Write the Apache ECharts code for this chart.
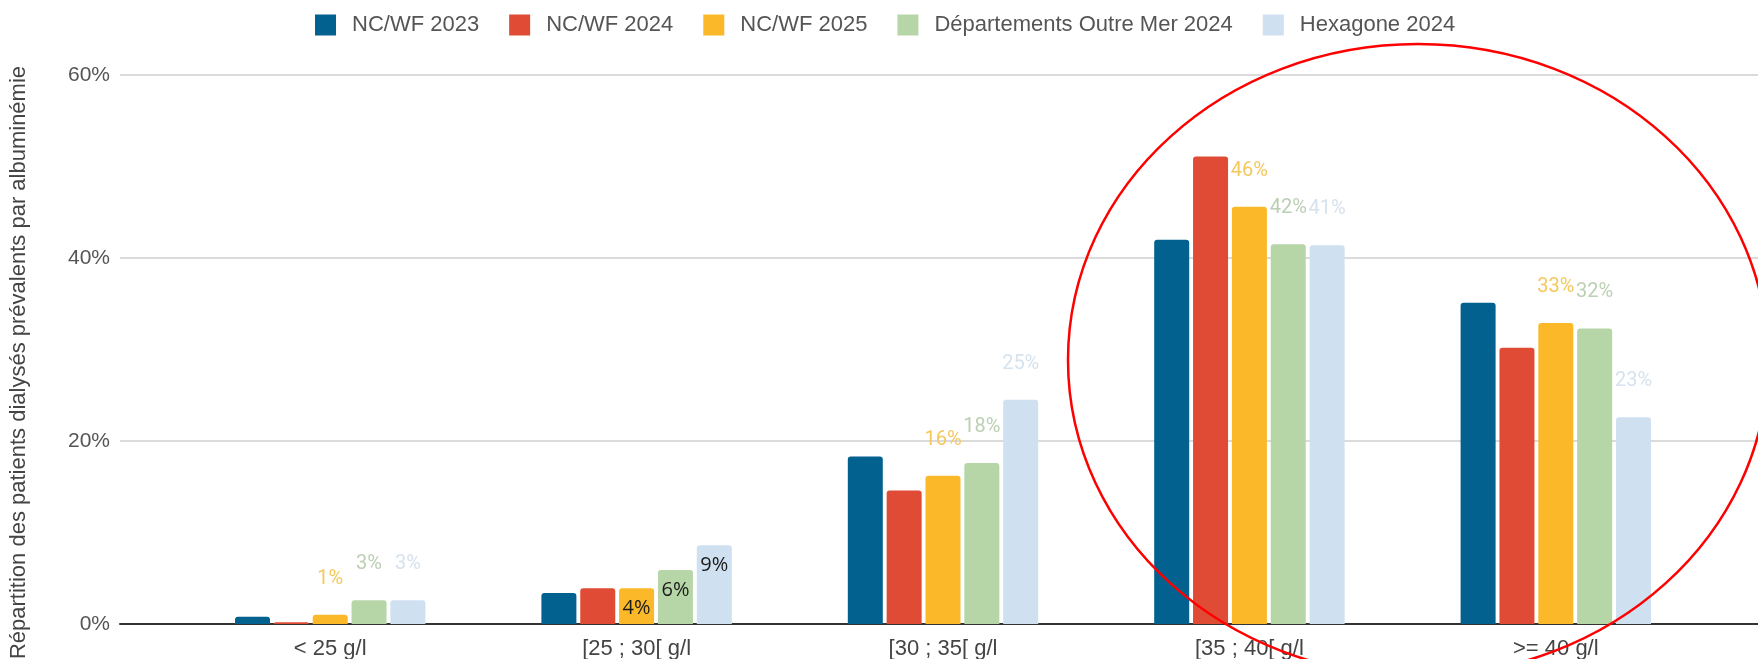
<!DOCTYPE html>
<html>
<head>
<meta charset="utf-8">
<script src="https://cdn.jsdelivr.net/npm/echarts@6/dist/echarts.min.js"></script>
<style>
  html, body { margin: 0; padding: 0; background: #fff; }
  #chart { width: 1758px; height: 659px; }
</style>
</head>
<body>
<div id="chart"></div>
<script>
// categories (albuminémie classes)
const categories = ['< 25 g/l', '[25 ; 30[ g/l', '[30 ; 35[ g/l', '[35 ; 40[ g/l', '>= 40 g/l']

// % of prevalent dialysis patients
const ncwf2023 = [0.8, 3.4, 18.3, 42.0, 35.1]
const ncwf2024 = [0.2, 3.9, 14.6, 51.1, 30.2]
const ncwf2025 = [1.0, 3.9, 16.2, 45.6, 32.9]
const dom2024 = [2.6, 5.9, 17.6, 41.5, 32.3]
const hexagone2024 = [2.6, 8.6, 24.5, 41.4, 22.6]

const yTicks = [0, 20, 40, 60]

const chart = echarts.init(document.getElementById('chart'))

const fontMain = '"Liberation Sans", Arial, sans-serif'

// labels of the second group sit inside the bars, in dark text
const insideLabel = {
  position: 'insideTop',
  distance: 10,
  color: '#1b1b1b',
  fontSize: 20,
  fontFamily: '"Open Sans", "Noto Sans", sans-serif'
}

function withLabels (values) {
  return values.map((v, i) => i === 1 ? { value: v, label: insideLabel } : v)
}

function barSeries (name, values, color, labelColor) {
  const s = {
    name: name,
    type: 'bar',
    xAxisIndex: 1,
    yAxisIndex: 1,
    barWidth: 35,
    barGap: '11%',
    itemStyle: { color: color, borderRadius: [3, 3, 0, 0] },
    data: values
  }
  if (labelColor) {
    s.data = withLabels(values)
    s.label = {
      show: true,
      position: 'top',
      distance: 26,
      color: labelColor,
      fontSize: 20,
      fontFamily: 'Roboto, sans-serif',
      formatter: p => Math.round(p.value) + '%'
    }
  }
  return s
}

const option = {
  backgroundColor: '#fff',
  animation: false,
  legend: {
    left: 310,
    top: 9,
    padding: 5,
    itemWidth: 21,
    itemHeight: 21,
    itemGap: 30,
    icon: 'rect',
    itemStyle: { borderRadius: 2 },
    textStyle: {
      color: '#555',
      fontSize: 22,
      fontFamily: fontMain,
      padding: [0, 0, 0, 11]
    }
  },
  grid: [
    { left: 120, right: 0, top: 75, bottom: 35, outerBoundsMode: 'none' },
    { left: 177, right: 49, top: 75, bottom: 35, outerBoundsMode: 'none' }
  ],
  xAxis: [
    {
      gridIndex: 0,
      type: 'value',
      min: 0,
      max: 1,
      axisLabel: { show: false },
      axisTick: { show: false },
      splitLine: { show: false },
      axisLine: { show: true, lineStyle: { color: '#333', width: 2 } }
    },
    {
      gridIndex: 1,
      type: 'category',
      data: categories,
      axisLine: { show: false },
      axisTick: { show: false },
      axisLabel: {
        color: '#444',
        fontSize: 22,
        fontFamily: fontMain,
        margin: 14
      }
    }
  ],
  yAxis: [
    {
      gridIndex: 0,
      type: 'value',
      min: yTicks[0],
      max: yTicks[yTicks.length - 1],
      interval: 20,
      axisLine: { show: false },
      axisTick: { show: false },
      axisLabel: {
        formatter: '{value}%',
        color: '#555',
        fontSize: 21,
        fontFamily: fontMain,
        margin: 10
      },
      splitLine: { lineStyle: { color: '#cfcfcf', width: 1.5 } },
      name: 'Répartition des patients dialysés prévalents par albuminémie',
      nameLocation: 'middle',
      nameGap: 90,
      nameTextStyle: {
        color: '#444',
        fontSize: 22,
        fontFamily: fontMain,
        padding: [0, 26, 0, 0]
      }
    },
    {
      gridIndex: 1,
      type: 'value',
      min: yTicks[0],
      max: yTicks[yTicks.length - 1],
      show: false,
      splitLine: { show: false }
    }
  ],
  series: [
    barSeries('NC/WF 2023', ncwf2023, '#02618f'),
    barSeries('NC/WF 2024', ncwf2024, '#e04b35'),
    barSeries('NC/WF 2025', ncwf2025, '#fbb829', '#f5c85e'),
    barSeries('Départements Outre Mer 2024', dom2024, '#b6d6a8', '#bccfb4'),
    barSeries('Hexagone 2024', hexagone2024, '#cfe0f1', '#d6e2ee')
  ],
  // red hand-drawn highlight around the two last groups
  graphic: [
    {
      type: 'ellipse',
      shape: { cx: 1418, cy: 360, rx: 350, ry: 316 },
      style: { fill: 'none', stroke: '#ff0000', lineWidth: 2.5 },
      z: 100
    }
  ]
}

chart.setOption(option)
</script>
</body>
</html>
